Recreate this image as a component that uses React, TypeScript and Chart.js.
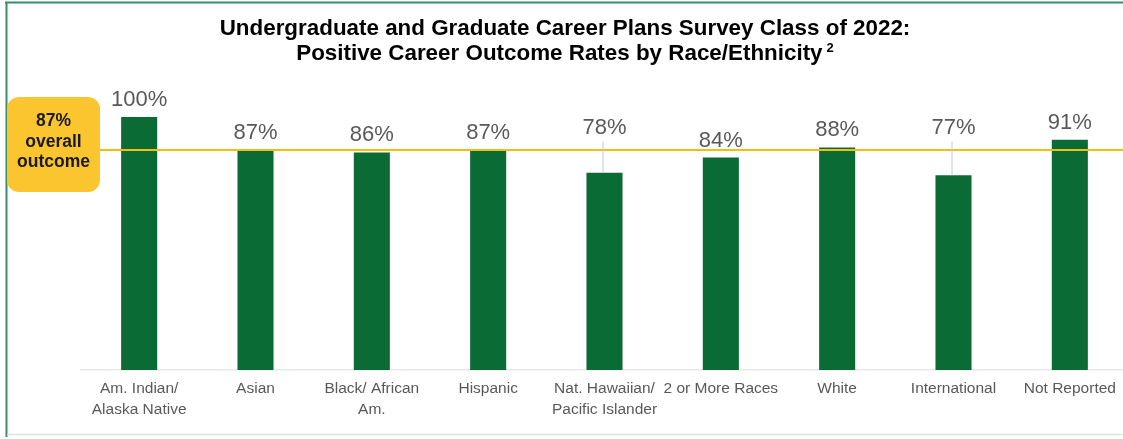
import React, { useEffect, useRef } from "react";
import { Chart, registerables } from "chart.js";

Chart.register(...registerables);

const CATEGORIES: (string | string[])[] = [
  ["Am. Indian/", "Alaska Native"],
  "Asian",
  ["Black/ African", "Am."],
  "Hispanic",
  ["Nat. Hawaiian/", "Pacific Islander"],
  "2 or More Races",
  "White",
  "International",
  "Not Reported",
];
const VALUES: number[] = [100, 87, 86, 87, 78, 84, 88, 77, 91];
const OVERALL = 87;
const TITLE_LINE1 = "Undergraduate and Graduate Career Plans Survey Class of 2022:";
const TITLE_LINE2 = "Positive Career Outcome Rates by Race/Ethnicity";
const TITLE_SUP = "2";
const BOX_LINES: string[] = ["87%", "overall", "outcome"];

const FONT = '"Liberation Sans", Arial, sans-serif';
const BAR_COLOR = "#0B6B34";
const LABEL_COLOR = "#595959";
const LINE_COLOR = "#F4BE10";
const BOX_COLOR = "#FBC52F";

const overlay = {
  id: "overlay",
  beforeDraw(chart: any) {
    const ctx = chart.ctx;
    ctx.save();
    ctx.fillStyle = "#ffffff";
    ctx.fillRect(0, 0, chart.width, chart.height);
    // frame
    ctx.strokeStyle = "#3A8B68";
    ctx.lineWidth = 2;
    ctx.beginPath();
    ctx.moveTo(5, 2.5);
    ctx.lineTo(chart.width, 2.5);
    ctx.moveTo(6.5, 2);
    ctx.lineTo(6.5, 437);
    ctx.stroke();
    ctx.strokeStyle = "#D3EAD9";
    ctx.lineWidth = 1.5;
    ctx.beginPath();
    ctx.moveTo(7, 434.5);
    ctx.lineTo(chart.width, 434.5);
    ctx.stroke();
    ctx.restore();
  },
  afterDatasetsDraw(chart: any) {
    const ctx = chart.ctx;
    const ys = chart.scales.y;
    const refY = ys.getPixelForValue(OVERALL);
    ctx.save();
    // overall line
    ctx.strokeStyle = LINE_COLOR;
    ctx.lineWidth = 2;
    ctx.beginPath();
    ctx.moveTo(100, refY);
    ctx.lineTo(chart.width, refY);
    ctx.stroke();

    // box
    ctx.fillStyle = BOX_COLOR;
    ctx.beginPath();
    (ctx as any).roundRect(7, 97, 93, 95, 12);
    ctx.fill();
    ctx.fillStyle = "#1a1a1a";
    ctx.font = `bold 17.5px ${FONT}`;
    ctx.textAlign = "center";
    ctx.textBaseline = "alphabetic";
    const boxBase = [126, 147, 167];
    BOX_LINES.forEach((t, i) => ctx.fillText(t, 53.5, boxBase[i]));

    // data labels
    const meta = chart.getDatasetMeta(0);
    ctx.font = `22px ${FONT}`;
    ctx.fillStyle = LABEL_COLOR;
    meta.data.forEach((bar: any, i: number) => {
      const text = VALUES[i] + "%";
      const normalBase = bar.y - 11;
      if (normalBase > refY) {
        const by = refY - 15.5;
        ctx.fillStyle = LABEL_COLOR;
        ctx.fillText(text, bar.x, by);
        ctx.strokeStyle = "#C8C8C8";
        ctx.lineWidth = 1;
        ctx.beginPath();
        ctx.moveTo(bar.x - 1.5, by + 7);
        ctx.lineTo(bar.x - 1.5, bar.y);
        ctx.stroke();
      } else {
        ctx.fillText(text, bar.x, normalBase);
      }
    });

    // title
    ctx.fillStyle = "#000000";
    ctx.font = `bold 22.4px ${FONT}`;
    ctx.textAlign = "center";
    ctx.fillText(TITLE_LINE1, 565, 35);
    const w2 = ctx.measureText(TITLE_LINE2).width;
    ctx.font = `bold 13px ${FONT}`;
    const ws = ctx.measureText(TITLE_SUP).width;
    const total = w2 + 4 + ws;
    const startX = 565 - total / 2;
    ctx.textAlign = "left";
    ctx.font = `bold 22.4px ${FONT}`;
    ctx.fillText(TITLE_LINE2, startX, 60);
    ctx.font = `bold 13px ${FONT}`;
    ctx.fillText(TITLE_SUP, startX + w2 + 4, 52);
    ctx.restore();
  },
};

export default function App() {
  const ref = useRef<HTMLCanvasElement | null>(null);
  useEffect(() => {
    if (!ref.current) return;
    const chart = new Chart(ref.current, {
      type: "bar",
      data: {
        labels: CATEGORIES,
        datasets: [
          {
            data: VALUES,
            backgroundColor: BAR_COLOR,
            barPercentage: 0.31,
            categoryPercentage: 1,
          },
        ],
      },
      options: {
        responsive: false,
        animation: false,
        layout: { padding: { top: 90, left: 81, right: 2, bottom: 0 } },
        plugins: {
          legend: { display: false },
          title: { display: false },
          tooltip: { enabled: false },
        },
        scales: {
          x: {
            grid: { display: false, drawTicks: false },
            border: { display: true, color: "#E8E8E8", width: 1.5 },
            ticks: {
              color: LABEL_COLOR,
              font: { family: FONT, size: 15.5, lineHeight: 1.3 },
              padding: 9,
              autoSkip: false,
              maxRotation: 0,
              minRotation: 0,
            },
            afterFit: (scale: any) => {
              scale.height = 69;
            },
          },
          y: {
            display: false,
            min: 0,
            max: 110.7,
          },
        },
      },
      plugins: [overlay],
    });
    return () => chart.destroy();
  }, []);
  return (
    <div
      style={{
        position: "absolute",
        left: 0,
        top: 0,
        width: 1123,
        height: 439,
        overflow: "hidden",
        background: "#fff",
      }}
    >
      <canvas
        ref={ref}
        width={1130}
        height={439}
        style={{ display: "block", width: 1130, height: 439 }}
      />
    </div>
  );
}
